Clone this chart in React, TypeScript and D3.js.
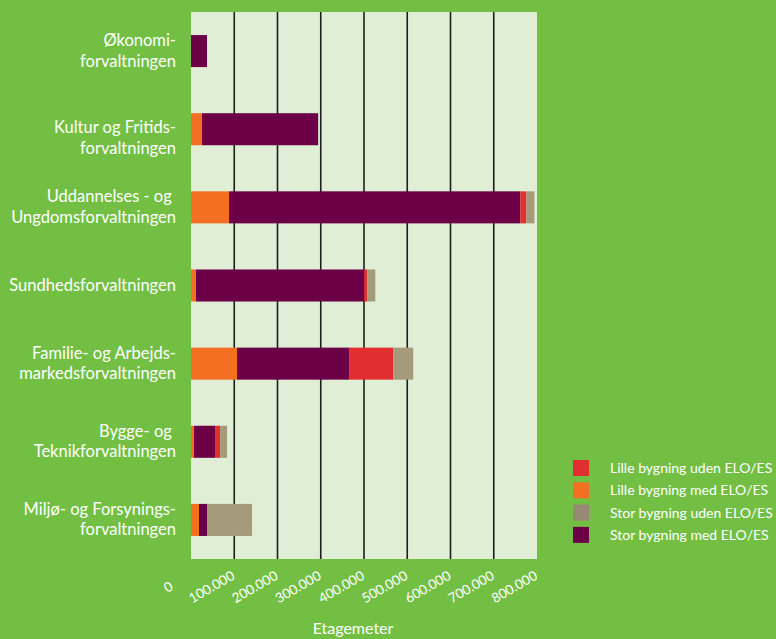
import React from "react";
import * as d3 from "d3";

const categories: string[][] = [
  ["Økonomi-", "forvaltningen"],
  ["Kultur og Fritids-", "forvaltningen"],
  ["Uddannelses - og ", "Ungdomsforvaltningen"],
  ["Sundhedsforvaltningen"],
  ["Familie- og Arbejds-", "markedsforvaltningen"],
  ["Bygge- og ", "Teknikforvaltningen"],
  ["Miljø- og Forsynings-", "forvaltningen"],
];

const lilleMed = [0, 25500, 88000, 11600, 106500, 7000, 18500];
const storMed = [37000, 268500, 673600, 389000, 259000, 48600, 18500];
const lilleUden = [0, 0, 13900, 7000, 102000, 11600, 0];
const storUden = [0, 0, 18500, 18500, 46300, 16200, 104000];

const ticks = [0, 100000, 200000, 300000, 400000, 500000, 600000, 700000, 800000];
const tickLabels = ["0", "100.000", "200.000", "300.000", "400.000", "500.000", "600.000", "700.000", "800.000"];

const stackOrder = [
  { key: "lilleMed", values: lilleMed, color: "#F37022" },
  { key: "storMed", values: storMed, color: "#6B0046" },
  { key: "lilleUden", values: lilleUden, color: "#E12E2E" },
  { key: "storUden", values: storUden, color: "#A59B7B" },
];

const legendItems = [
  { label: "Lille bygning uden ELO/ES", color: "#E12E2E" },
  { label: "Lille bygning med ELO/ES", color: "#F37022" },
  { label: "Stor bygning uden ELO/ES", color: "#978775" },
  { label: "Stor bygning med ELO/ES", color: "#6B0046" },
];

const axisTitle = "Etagemeter";

const W = 776, H = 639;
const plot = { left: 191, right: 537, top: 12, bottom: 559 };
const FONT = "Lato, 'Open Sans', sans-serif";
const labelShift = [0, 9, 0, 0, 0, 0, 0];

export default function App() {
  const x = d3.scaleLinear().domain([0, 800000]).range([plot.left, plot.right]);
  const y = d3
    .scaleBand<number>()
    .domain(d3.range(categories.length))
    .range([plot.top, plot.bottom])
    .paddingInner(0.59)
    .paddingOuter(0.295);

  const rows = categories.map((_, i) => {
    let acc = 0;
    return stackOrder.map((s) => {
      const v = s.values[i];
      const seg = { x0: acc, x1: acc + v, color: s.color, key: s.key };
      acc += v;
      return seg;
    });
  });

  return (
    <div style={{ position: "absolute", left: 0, top: 0 }}>
      <svg width={W} height={H} style={{ display: "block" }} fontFamily={FONT}>
        <rect x={0} y={0} width={W} height={H} fill="#72BF44" />
        <rect
          x={plot.left}
          y={plot.top}
          width={plot.right - plot.left}
          height={plot.bottom - plot.top}
          fill="#E1EED6"
        />
        {ticks.slice(1, -1).map((t) => (
          <line
            key={t}
            x1={x(t)}
            x2={x(t)}
            y1={plot.top}
            y2={plot.bottom}
            stroke="#1E1E1E"
            strokeWidth={1.6}
          />
        ))}
        {rows.map((segs, i) =>
          segs
            .filter((s) => s.x1 > s.x0)
            .map((s) => (
              <rect
                key={i + s.key}
                x={x(s.x0)}
                y={y(i)!}
                width={x(s.x1) - x(s.x0)}
                height={y.bandwidth()}
                fill={s.color}
              />
            ))
        )}
        {categories.map((lines, i) => {
          const cy = y(i)! + y.bandwidth() / 2 + labelShift[i];
          const startY = lines.length === 1 ? cy + 5 : cy - 5;
          return (
            <text
              key={i}
              x={176}
              textAnchor="end"
              fill="#FFFFFF"
              fontSize={16.5}
            >
              {lines.map((l, j) => (
                <tspan key={j} x={176} y={startY + j * 20.5} style={{ whiteSpace: "pre" }}>
                  {l}
                </tspan>
              ))}
            </text>
          );
        })}
        {ticks.map((t, i) => {
          const cx = x(t) - 22;
          const cy = 588;
          return (
            <text
              key={t}
              x={cx}
              y={cy}
              textAnchor="middle"
              dominantBaseline="middle"
              transform={`rotate(-30, ${cx}, ${cy})`}
              fill="#FFFFFF"
              fontSize={13.5}
            >
              {tickLabels[i]}
            </text>
          );
        })}
        <text x={353} y={634} textAnchor="middle" fill="#FFFFFF" fontSize={16}>
          {axisTitle}
        </text>
        {legendItems.map((d, i) => (
          <g key={d.label} transform={`translate(573, ${460 + i * 22.3})`}>
            <rect x={0} y={0} width={16} height={16} fill={d.color} />
            <text x={37} y={13} fill="#FFFFFF" fontSize={14}>
              {d.label}
            </text>
          </g>
        ))}
      </svg>
    </div>
  );
}
